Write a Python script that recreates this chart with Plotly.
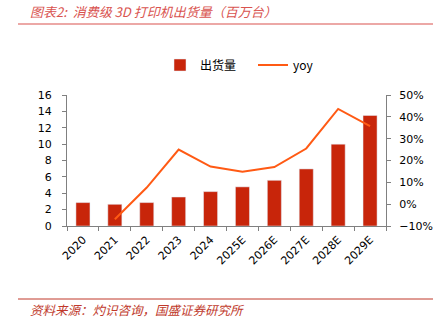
import plotly.graph_objects as go

categories = ["2020", "2021", "2022", "2023", "2024", "2025E", "2026E", "2027E", "2028E", "2029E"]
shipments = [2.86, 2.65, 2.86, 3.54, 4.2, 4.78, 5.58, 6.97, 10.0, 13.5]
yoy = [None, -0.069, 0.076, 0.25, 0.172, 0.148, 0.17, 0.255, 0.436, 0.357]

title_text = "图表2:  消费级 3D 打印机出货量（百万台）"
source_text = "资料来源：灼识咨询，国盛证券研究所"

W, H = 444, 322
L, R, T, B = 67, 58, 95, 96
pw, ph = W - L - R, H - T - B

def px(x):
    return (x - L) / pw

def py(y):
    return (H - B - y) / ph

fig = go.Figure()
fig.add_trace(go.Bar(x=categories, y=shipments, name="出货量", marker_color="#C8250A",
                     yaxis="y"))
fig.add_trace(go.Scatter(x=categories, y=yoy, name="yoy", mode="lines",
                         line=dict(color="#FF5A14", width=2), yaxis="y2"))

axis_font = dict(family="DejaVu Sans", size=11, color="#000000")
fig.update_layout(
    width=W, height=H,
    margin=dict(l=L, r=R, t=T, b=B, pad=0),
    plot_bgcolor="white", paper_bgcolor="white",
    bargap=0.56,
    showlegend=True,
    legend=dict(orientation="h", x=px(160), y=py(65), xanchor="left", yanchor="middle",
                font=dict(family="Noto Sans CJK SC", size=12, color="#000000"),
                bgcolor="rgba(0,0,0,0)", itemwidth=30, entrywidth=48),
    xaxis=dict(type="category", showline=True, linecolor="#808080", linewidth=1,
               ticks="outside", tickson="boundaries", ticklen=4, tickcolor="#808080",
               tickangle=-45, tickfont=axis_font, showgrid=False, zeroline=False,
               ticklabelstandoff=2),
    yaxis=dict(range=[0, 16], dtick=2, showline=True, linecolor="#808080", linewidth=1,
               ticks="outside", ticklen=4, tickcolor="#808080", tickfont=axis_font,
               showgrid=False, zeroline=False, ticklabelstandoff=8),
    yaxis2=dict(range=[-0.1, 0.5], dtick=0.1, tickformat=".0%", overlaying="y", side="right",
                showline=True, linecolor="#808080", linewidth=1, ticks="outside", ticklen=4,
                tickcolor="#808080", tickfont=axis_font, showgrid=False, zeroline=False,
                ticklabelstandoff=6),
    shapes=[
        dict(type="line", xref="paper", yref="paper", x0=px(18), x1=px(433), y0=py(24), y1=py(24),
             line=dict(color="#D9534F", width=1.2)),
        dict(type="line", xref="paper", yref="paper", x0=px(18), x1=px(433), y0=py(299), y1=py(299),
             line=dict(color="#C0392B", width=1)),
    ],
    annotations=[
        dict(text=title_text, xref="paper", yref="paper", x=px(28), y=py(12), xanchor="left",
             yanchor="middle", showarrow=False,
             font=dict(family="Noto Sans CJK SC", size=13, color="#D9534F", style="italic")),
        dict(text=source_text, xref="paper", yref="paper", x=px(28), y=py(309), xanchor="left",
             yanchor="middle", showarrow=False,
             font=dict(family="Noto Sans CJK SC", size=12.5, color="#C0392B", style="italic")),
    ],
)

fig.write_html("out.html")
